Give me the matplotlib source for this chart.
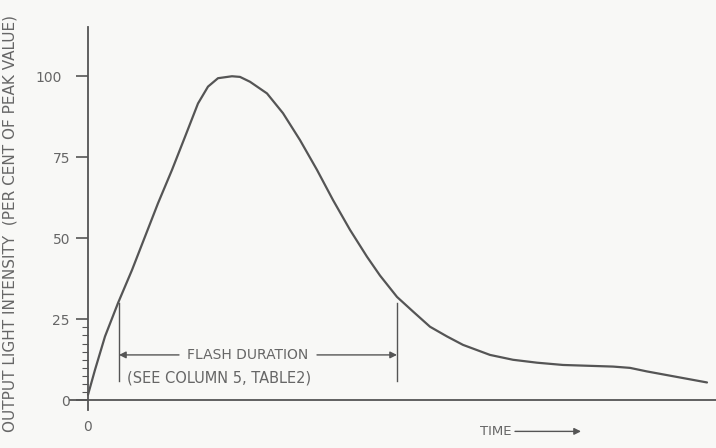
import matplotlib.pyplot as plt

# flash output curve (time in arbitrary units)
time = [0, 7, 17, 30, 44, 57, 70, 84, 97, 110, 120, 130, 144, 152, 162, 179,
        195, 212, 229, 245, 262, 279, 292, 309, 325, 342, 359, 375, 402, 425,
        449, 475, 525, 542, 559, 589, 619]
intensity = [1.7, 9.4, 19.7, 30.0, 40.2, 50.5, 60.8, 71.1, 81.3, 91.6, 96.8,
             99.4, 100.0, 99.8, 98.3, 94.7, 88.6, 80.3, 71.1, 61.8, 52.6, 44.3,
             38.5, 31.9, 27.4, 22.7, 19.7, 17.1, 14.0, 12.5, 11.6, 10.9, 10.4,
             10.0, 8.9, 7.2, 5.5]
yticks = [0, 25, 50, 75, 100]
flash_start, flash_end = 31, 309

ink = '#555555'
txt = '#666666'
plt.rcParams['font.family'] = ['DejaVu Sans']

fig = plt.figure(figsize=(7.16, 4.48), dpi=100, facecolor='#f8f8f6')
ax = fig.add_axes([70 / 716, (448 - 410) / 448, 646 / 716, 383 / 448])
ax.set_facecolor('#f8f8f6')

ax.plot(time, intensity, color=ink, lw=1.6, solid_joinstyle='round',
        solid_capstyle='round')

ax.set_xlim(-18, 628)
ax.set_ylim(-3, 115.2)
ax.spines['left'].set_position(('data', 0))
ax.spines['bottom'].set_position(('data', 0))
ax.spines['top'].set_visible(False)
ax.spines['right'].set_visible(False)
for s in ('left', 'bottom'):
    ax.spines[s].set_color(ink)
    ax.spines[s].set_linewidth(1.3)

ax.set_yticks(yticks)
ax.set_yticks([2.5 * i for i in range(1, 10)], minor=True)
ax.tick_params(axis='y', which='major', length=9, width=1.2, color=ink,
               labelcolor=txt, labelsize=10, pad=4)
ax.tick_params(axis='y', which='minor', length=4, width=0.8, color=ink)
# the 100 tick is drawn longer in the original
t100 = ax.yaxis.get_major_ticks()[-1]
t100.tick1line.set_markersize(16)
t100.set_pad(10)
ax.set_xticks([0])
ax.tick_params(axis='x', length=0, labelcolor=txt, labelsize=10, pad=14)

fig.text(0.014, 0.5, 'OUTPUT LIGHT INTENSITY  (PER CENT OF PEAK VALUE)',
         rotation=90, ha='center', va='center', color=txt, fontsize=11)

# flash duration markers
ax.plot([flash_start, flash_start], [30.1, 6.0], color=ink, lw=1.0)
ax.plot([flash_end, flash_end], [30.1, 6.0], color=ink, lw=1.0)
ax.annotate('', xy=(flash_start, 14.0), xytext=(91, 14.0),
            arrowprops=dict(arrowstyle='-|>', color=ink, lw=1.0,
                            mutation_scale=10, shrinkA=0, shrinkB=0))
ax.annotate('', xy=(flash_end, 14.0), xytext=(229, 14.0),
            arrowprops=dict(arrowstyle='-|>', color=ink, lw=1.0,
                            mutation_scale=10, shrinkA=0, shrinkB=0))
ax.text(160, 14.0, 'FLASH DURATION', ha='center', va='center', color=txt,
        fontsize=10)
ax.text(39, 6.8, '(SEE COLUMN 5, TABLE2)', ha='left', va='center', color=txt,
        fontsize=10.5)

# time arrow under the axis
ax.text(423, -9.6, 'TIME', ha='right', va='center', color=txt, fontsize=9.5,
        clip_on=False)
ax.annotate('', xy=(493, -9.6), xytext=(427, -9.6), annotation_clip=False,
            arrowprops=dict(arrowstyle='-|>', color=ink, lw=1.0,
                            mutation_scale=10, shrinkA=0, shrinkB=0))

fig.savefig('out.png', dpi=100, facecolor=fig.get_facecolor())
